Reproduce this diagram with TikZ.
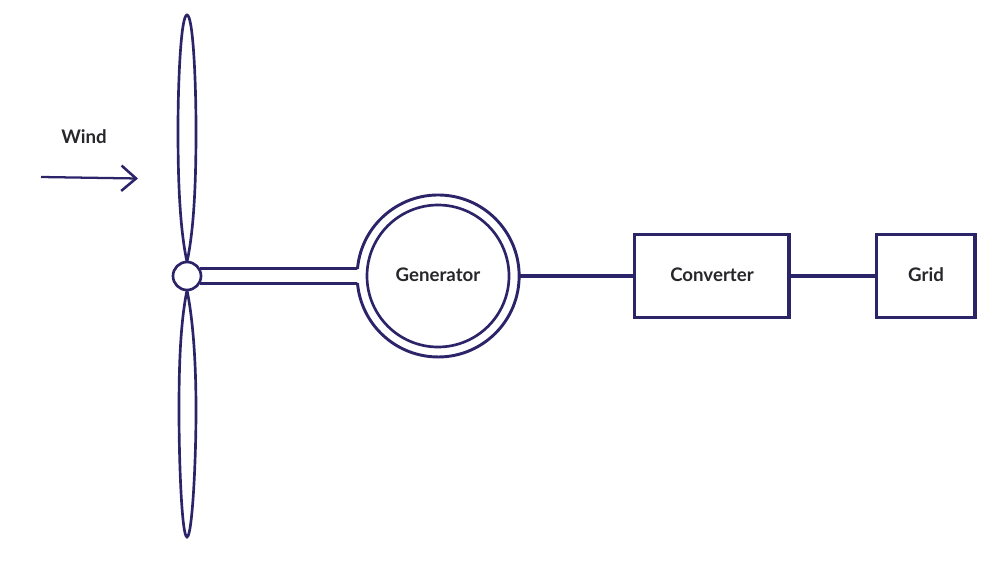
\documentclass[tikz,border=0pt]{standalone}
\usepackage{fontspec}
\setmainfont{Lato}
\usetikzlibrary{arrows.meta}
\definecolor{ink}{HTML}{2B2468}
\definecolor{txt}{HTML}{26262B}
\tikzset{
  x=0.75pt,y=-0.75pt,
  lbl/.style={text=txt,font=\bfseries\fontsize{14}{16}\selectfont,inner sep=0pt},
  thin line/.style={draw=ink,line width=2pt},
  thick line/.style={draw=ink,line width=2.6pt},
  boxnode/.style={thick line,rectangle,inner sep=0pt},
  ringnode/.style={circle,inner sep=0pt,thin line,fill=white},
}
\begin{document}
\begin{tikzpicture}
\useasboundingbox (0,0) rectangle (1000,571);
% blades
\draw[thin line] (187,262) .. controls (179,225) and (178,170) .. (178,130)
  .. controls (178,80) and (181,15) .. (187,15)
  .. controls (193,15) and (196,80) .. (196,130)
  .. controls (196,170) and (195,225) .. (187,262) -- cycle;
\draw[thin line] (187,290) .. controls (180,325) and (179,370) .. (179,410)
  .. controls (179,465) and (182,537) .. (187,537)
  .. controls (192,537) and (196,465) .. (196,410)
  .. controls (196,370) and (194,325) .. (187,290) -- cycle;
% hub
\node[ringnode,minimum size=21pt] (hub) at (187,276) {};
% generator
\node[circle,inner sep=0pt,minimum size=122pt] (gen) at (438,276) {};
\coordinate (shaftTop) at (357.5,268.5);
\coordinate (shaftBot) at (357.5,283);
\draw[thin line,line width=2.2pt] (shaftTop) arc[start angle=174.7,end angle=-174.7,radius=60.75pt];
\node[circle,thin line,inner sep=0pt,minimum size=106.5pt,text=txt,font=\bfseries\fontsize{14}{16}\selectfont] (genin) at (438,276) {\raisebox{2pt}{Generator}};
\draw[thin line,line width=2.6pt] (hub.30) -- (hub.30 -| shaftTop) -- (shaftTop);
\draw[thin line,line width=2.6pt] (hub.-30) -- (hub.-30 -| shaftBot) -- (shaftBot);
% boxes
\node[boxnode,minimum width=116pt,minimum height=62.6pt] (conv) at (711.7,276) {};
\node[boxnode,minimum width=73.6pt,minimum height=62.6pt] (grid) at (925.8,276) {};
\node[lbl] (convt) at (712,274.5) {Converter};
\node[lbl] (gridt) at (926,274.5) {Grid};
\draw[thick line] (gen.east) -- (conv.west);
\draw[thick line] (conv.east) -- (grid.west);
% wind
\node[lbl] (windt) at (84,137) {Wind};
\coordinate (w1) at (41,177);
\coordinate (w2) at (138,178.5);
\draw[draw=ink,line width=1.7pt,-{Straight Barb[length=11pt,width=19pt,line width=1.9pt]}] (w1) -- (w2);
\end{tikzpicture}
\end{document}
